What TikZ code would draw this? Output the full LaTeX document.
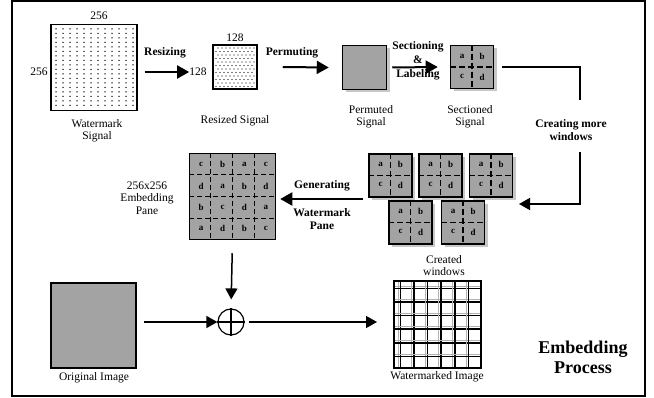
\documentclass[tikz,border=0pt]{standalone}
\usepackage{fontspec}
\setmainfont{Liberation Serif}
\usetikzlibrary{arrows.meta,shadows,calc}

\tikzset{
  txt/.style={font=\fontsize{11.5}{12.5}\selectfont,align=center,inner sep=0pt},
  bold txt/.style={txt,font=\fontsize{11.5}{13}\selectfont\bfseries},
  letter/.style={font=\fontsize{9}{9}\selectfont\bfseries,inner sep=0pt},
  sigbox/.style={draw,line width=1.5pt,minimum width=#1,minimum height=#1,inner sep=0pt},
  greybox/.style={sigbox=#1,fill=gray!72,general shadow={shadow xshift=3pt,shadow yshift=-3pt,fill=black!22}},
  divider/.style={line width=1.3pt,dash pattern=on 6pt off 3pt},
  arr/.style={-{Triangle[length=12pt,width=13pt]},line width=2pt},
  thin arr/.style={-{Triangle[length=11pt,width=12pt]},line width=1.5pt},
  conn/.style={line width=1.5pt}
}

\newcommand{\wintile}[3]{%
  \node[greybox=43pt] (#1) at (#2,#3) {};
  \draw[divider] (#1.north) -- (#1.south);
  \draw[divider] (#1.west) -- (#1.east);
  \node[letter] at ($(#1.center)+(-10,-11)$) {a};
  \node[letter] at ($(#1.center)+(10,-11)$) {b};
  \node[letter] at ($(#1.center)+(-10,9)$) {c};
  \node[letter] at ($(#1.center)+(10,10)$) {d};
}

\begin{document}
\begin{tikzpicture}[x=1pt,y=-1pt]
  \useasboundingbox (0,0) rectangle (654,398);
  \draw[line width=1.5pt] (12,1) rectangle (645,396);

  % top row
  \node[sigbox=86pt] (wm) at (94,67.5) {};
  \foreach \x in {56,63,...,133} \foreach \y in {29,33.5,...,108} \fill (\x,\y) circle (0.75pt);
  \node[txt] (wmtop) at (99,16) {256};
  \node[txt] (wmleft) at (39,72) {256};
  \node[txt] (wmlab) at (97,131) {Watermark\\Signal};

  \node[sigbox=44pt] (rs) at (235,67) {};
  \foreach \y [count=\i] in {48,51.5,...,87} {
    \pgfmathsetmacro\off{mod(\i,2)*2}
    \foreach \x in {216,220,...,253} \fill (\x+\off,\y) circle (0.6pt);
  }
  \node[txt] (rstop) at (235,38) {128};
  \node[txt] (rsleft) at (198,72) {128};
  \node[txt] (rslab) at (235,121) {Resized Signal};

  \node[greybox=44pt] (ps) at (364.5,67.5) {};
  \node[txt] (pslab) at (371,117) {Permuted\\Signal};

  \wintile{ss}{472}{67}
  \node[txt] (sslab) at (470,117) {Sectioned\\Signal};

  \draw[arr] ([xshift=7pt]wm.east |- rsleft) -- (rsleft.west);
  \node[bold txt] (resz) at (165,53) {Resizing};
  \draw[arr] ([xshift=25pt]rs.east) -- ([xshift=-13pt]ps.west);
  \node[bold txt] (perm) at (292,53) {Permuting};
  \draw[arr] ([xshift=5pt]ps.east) -- ([xshift=-12pt]ss.west);
  \node[bold txt,font=\fontsize{11.5}{14}\selectfont\bfseries] (secl) at (418,61) {Sectioning\\\&\\Labeling};

  % windows
  \node[bold txt] (cmw) at (571,130) {Creating more\\windows};
  \coordinate (k1) at (580,100);
  \coordinate (k2) at (580,152);
  \coordinate (k3) at (580,204);
  \coordinate (cwin) at (519,204);
  \draw[conn] ([xshift=8pt]ss.east) -| (k1);
  \draw[thin arr] (k2) -- (k3) -- (cwin);

  \wintile{w1}{390.5}{175.5}
  \wintile{w2}{440.5}{175.5}
  \wintile{w3}{491}{175.5}
  \wintile{w4}{410.5}{222.5}
  \wintile{w5}{463}{222.5}
  \node[txt] (cwlab) at (444,265.5) {Created\\windows};

  % embedding pane
  \node[sigbox=86pt,fill=gray!72] (pane) at (232.5,196.5) {};
  \foreach \f in {0.25,0.5,0.75} {
    \draw[divider,dash pattern=on 5pt off 3pt] ($(pane.north west)!\f!(pane.north east)$) -- ($(pane.south west)!\f!(pane.south east)$);
    \draw[divider,dash pattern=on 5pt off 3pt] ($(pane.north west)!\f!(pane.south west)$) -- ($(pane.north east)!\f!(pane.south east)$);
  }
  \foreach \row [count=\j] in {{c,b,a,c},{d,a,b,d},{b,c,d,a},{a,d,b,c}}
    \foreach \l [count=\i] in \row
      \node[letter] at (189+21.6*\i-9.5,154+21.3*\j-10.5) {\l};
  \node[txt] (panelab) at (147,198) {256x256\\Embedding\\Pane};

  \coordinate (gs) at (363,199);
  \draw[arr] (gs) -- ([xshift=4pt]gs -| pane.east);
  \node[bold txt] (gen) at (322,186) {Generating};
  \node[bold txt] (wmp) at (322,219.5) {Watermark\\Pane};

  % bottom row
  \node[sigbox=85pt,fill=gray!72] (orig) at (93.5,325.5) {};
  \node[txt] (origlab) at (94,378) {Original Image};
  \node[circle,draw,line width=1.2pt,minimum size=26pt,inner sep=0pt] (op) at (231,322) {};
  \draw[line width=1.2pt] (op.north) -- (op.south) (op.west) -- (op.east);

  \node[sigbox=87pt,line width=2pt] (wmi) at (437.5,324.5) {};
  \foreach \d in {6.5,20,33.5,47,61,74.5} {
    \draw[gray!60,line width=1pt] (394+\d-2.2,282) -- (394+\d-2.2,367);
    \draw[gray!60,line width=1pt] (394,282+\d-2.2) -- (481,282+\d-2.2);
    \draw[line width=1.4pt] (394+\d,282) -- (394+\d,367);
    \draw[line width=1.4pt] (394,282+\d) -- (481,282+\d);
  }
  \node[sigbox=87pt,line width=2pt] at (437.5,324.5) {};
  \node[txt] (wmilab) at (437,377) {Watermarked Image};

  \draw[thin arr,shorten <=13pt,shorten >=9pt] (pane.south) -- (op.north);
  \draw[thin arr,shorten <=7pt] (orig.east |- op) -- (op.west);
  \draw[thin arr,shorten <=4pt,shorten >=16pt] (op.east) -- (wmi.west |- op);

  \node[bold txt,font=\fontsize{18}{20}\selectfont\bfseries] (emb) at (583,357) {Embedding\\Process};
\end{tikzpicture}
\end{document}
